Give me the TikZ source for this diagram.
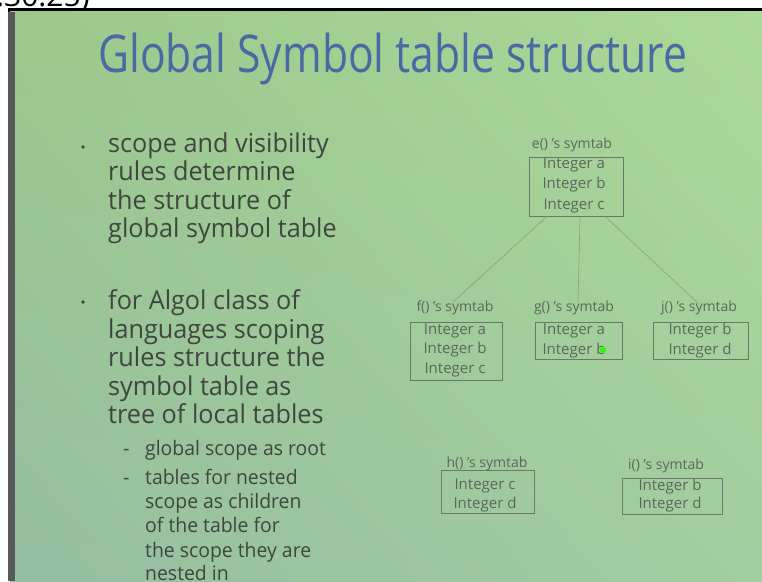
\documentclass[tikz,border=0pt]{standalone}
\usepackage{fontspec}
\setmainfont{Open Sans}
\usepackage{graphicx}
\usetikzlibrary{shadings}
\definecolor{titleblue}{HTML}{4A6AA4}
\definecolor{bodytxt}{HTML}{3D473D}
\definecolor{diagtxt}{HTML}{5A685A}
\definecolor{diagline}{HTML}{6A786A}
\definecolor{bgUL}{HTML}{9CC88C}
\definecolor{bgUR}{HTML}{ABD998}
\definecolor{bgLL}{HTML}{96BEA2}
\definecolor{bgLR}{HTML}{A2CDA0}
\tikzset{
  body/.style={anchor=base west, inner sep=0pt, text=bodytxt, font=\fontsize{26}{26}\selectfont},
  sub/.style={anchor=base west, inner sep=0pt, text=bodytxt, font=\fontsize{20}{20}\selectfont},
  entry/.style={anchor=base, inner sep=0pt, text=diagtxt, font=\fontsize{15}{15}\selectfont},
  tlabel/.style={anchor=base, inner sep=0pt, text=diagtxt, font=\fontsize{14}{14}\selectfont},
  tbl/.style={draw=diagline, line width=0.8pt, inner sep=0pt},
  conn/.style={draw=diagline!45!bgUL, line width=0.6pt},
}
\newcommand{\bsq}[1]{\scalebox{0.97}[1]{#1}}
\begin{document}
\begin{tikzpicture}[x=1pt,y=-1pt]
\useasboundingbox (0,0) rectangle (762,581);
\clip (0,0) rectangle (762,581);
\fill[white] (0,0) rectangle (762,581);
% timestamp cut off at top
\node[anchor=base west, inner sep=0pt, font=\fontsize{30}{30}\selectfont, text=black] (ts) at (-4,6) {.30:25)};
% frame
\fill[black] (8,8) rectangle (762,11.5);
\shade[upper left=bgUL, upper right=bgUR, lower left=bgLL, lower right=bgLR] (10,11.5) rectangle (762,581);
\fill[black!65] (8,11.5) rectangle (15,581);
% title
\node[anchor=base west, inner sep=0pt, text=titleblue, font=\fontsize{52}{52}\selectfont] (title) at (98,72) {\scalebox{0.82}[1]{Global Symbol table structure}};
% bullets
\fill[bodytxt] (83,147) circle (1.9) coordinate (b1);
\fill[bodytxt] (83,302) circle (1.9) coordinate (b2);
\node[body] (l1) at (108,152) {\bsq{scope and visibility}};
\node[body] (l2) at (108,180) {\bsq{rules determine}};
\node[body] (l3) at (108,209) {\bsq{the structure of}};
\node[body] (l4) at (108,237) {\bsq{global symbol table}};
\node[body] (l5) at (108,309) {\bsq{for Algol class of}};
\node[body] (l6) at (108,338) {\bsq{languages scoping}};
\node[body] (l7) at (108,366) {\bsq{rules structure the}};
\node[body] (l8) at (108,395) {\bsq{symbol table as}};
\node[body] (l9) at (108,423) {\bsq{tree of local tables}};
\node[sub] (d1) at (123,455) {-};
\node[sub] (d2) at (123,484) {-};
\node[sub] (s1) at (145,455) {\bsq{global scope as root}};
\node[sub] (s2) at (145,484) {\bsq{tables for nested}};
\node[sub] (s3) at (145,508) {\bsq{scope as children}};
\node[sub] (s4) at (145,532) {\bsq{of the table for}};
\node[sub] (s5) at (145,557) {\bsq{the scope they are}};
\node[sub] (s6) at (145,580) {\bsq{nested in}};
% tables
\node[tbl, minimum width=94pt, minimum height=59pt] (e) at (576,186.5) {};
\node[tlabel] (el) at (572,148) {e() 's symtab};
\node[entry] (e1) at (574,168) {Integer a};
\node[entry] (e2) at (574,188.5) {Integer b};
\node[entry] (e3) at (574,209) {Integer c};

\node[tbl, minimum width=92pt, minimum height=58pt] (f) at (456,351) {};
\node[tlabel] (fl) at (455,311) {f() 's symtab};
\node[entry] (f1) at (455,334) {Integer a};
\node[entry] (f2) at (455,353.5) {Integer b};
\node[entry] (f3) at (455,373.5) {Integer c};

\node[tbl, minimum width=87pt, minimum height=37pt] (g) at (578.5,340.5) {};
\node[tlabel] (gl) at (574,311) {g() 's symtab};
\node[entry] (g1) at (574,334) {Integer a};
\node[entry] (g2) at (574,354) {Integer b};
\fill[green!85!yellow] (603,350) circle (3.2) coordinate (laser);

\node[tbl, minimum width=95pt, minimum height=37pt] (j) at (700.5,340.5) {};
\node[tlabel] (jl) at (699,311) {j() 's symtab};
\node[entry] (j1) at (700,334) {Integer b};
\node[entry] (j2) at (700,354) {Integer d};

\node[tbl, minimum width=93pt, minimum height=43pt] (h) at (487.5,492) {};
\node[tlabel] (hl) at (487,467) {h() 's symtab};
\node[entry] (h1) at (485,489) {Integer c};
\node[entry] (h2) at (485,508) {Integer d};

\node[tbl, minimum width=100pt, minimum height=36pt] (i) at (672,496) {};
\node[tlabel] (il) at (666,469) {i() 's symtab};
\node[entry] (i1) at (670,490) {Integer b};
\node[entry] (i2) at (670,508) {Integer d};
% connectors
\draw[conn] ([xshift=-29pt]e.south) -- ([xshift=-2pt,yshift=-2pt]fl.north);
\draw[conn] ([xshift=4pt]e.south) -- ([xshift=4pt,yshift=-2pt]gl.north);
\draw[conn] ([xshift=29pt]e.south) -- ([yshift=-4pt]jl.north);
\end{tikzpicture}
\end{document}
